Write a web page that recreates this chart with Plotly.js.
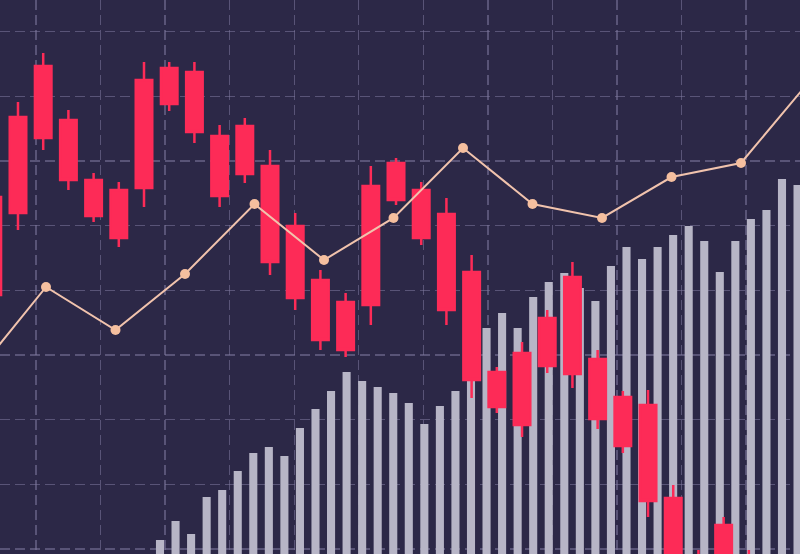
<!DOCTYPE html>
<html>
<head>
<meta charset="utf-8">
<script src="https://cdn.plot.ly/plotly-3.0.1.min.js"></script>
<style>
  html, body { margin: 0; padding: 0; background: #2c2847; }
  #chart { width: 800px; height: 554px; }
</style>
</head>
<body>
<div id="chart"></div>
<script>
// ---- Volume bars (index = session number) ----
const volumeIndex = [0,1,2,3,4,5,6,7,8,9,10,11,12,13,14,15,16,17,18,19,20,
  21,22,23,24,25,26,27,28,29,30,31,32,33,34,35,36,37,38,39,40,41];
const volumeTop = [1.39,4.33,2.32,8.04,9.12,12.06,14.84,15.77,14.38,18.71,
  21.65,24.43,27.37,25.97,25.05,24.12,22.57,19.33,22.11,24.43,29.99,
  34.17,36.49,34.17,38.96,41.28,42.67,40.35,38.34,43.75,46.69,44.84,
  46.69,48.55,49.94,47.62,42.83,47.62,51.02,52.41,57.21,56.28];

// ---- Candles ----
const candleIndex = [-1,0,1,2,3,4,5,6,7,8,9,10,11,12,13,14,15,16,17,18,19,
  20,21,22,23,24,25,26,27,28,29];
const candleHigh  = [56.28,69.11,76.69,67.87,58.13,56.74,75.29,75.29,75.29,65.55,66.64,
  61.69,51.95,43.14,39.58,59.21,60.45,56.74,54.27,45.45,28.14,
  32.00,36.95,44.37,30.77,24.43,24.58,9.90,-0.15,4.95,-0.15];
const candleOpen  = [54.42,66.79,74.68,66.33,57.05,55.50,72.51,74.37,73.75,63.85,65.40,
  59.21,49.94,41.59,38.19,56.12,59.68,55.50,51.79,42.83,27.37,
  30.30,35.71,42.05,29.38,23.50,22.26,7.89,-1.70,3.71,-1.40];
const candleClose = [39.27,51.95,63.54,57.05,51.48,48.08,55.81,68.80,64.47,54.58,57.98,
  44.37,38.81,32.31,30.77,37.72,53.96,48.08,36.95,26.13,21.95,
  19.17,28.29,27.06,20.10,15.92,7.42,-3.00,-8.00,-5.00,-8.00];
const candleLow   = [37.72,49.32,61.69,55.50,50.56,46.69,52.88,67.72,62.77,52.88,56.59,
  42.36,36.95,30.77,29.68,34.63,53.19,47.00,34.63,23.35,21.03,
  17.32,27.21,24.89,18.55,14.84,4.95,-5.00,-10.00,-7.00,-10.00];

// ---- Trend line ----
const trendIndex = [-1,0,1,2,3,4,5,6,7,8,9,10,11];
const trendValue = [27.21,40.51,33.86,42.52,53.34,44.68,51.18,62.00,53.34,51.18,57.51,59.68,72.51];

const BAR_BASE = -3;
const RED = '#fd2b57';
const GRID = 'rgba(128,121,158,0.55)';

const bars = {
  type: 'bar',
  x: volumeIndex,
  y: volumeTop.map(v => v - BAR_BASE),
  base: BAR_BASE,
  width: 0.52,
  marker: { color: '#b7b5c6', line: { width: 0 } },
  xaxis: 'x', yaxis: 'y',
  hoverinfo: 'skip'
};

const candles = {
  type: 'candlestick',
  x: candleIndex,
  open: candleOpen, high: candleHigh, low: candleLow, close: candleClose,
  increasing: { line: { color: RED, width: 2.5 }, fillcolor: RED },
  decreasing: { line: { color: RED, width: 2.5 }, fillcolor: RED },
  whiskerwidth: 0,
  xaxis: 'x2', yaxis: 'y',
  hoverinfo: 'skip'
};

const trend = {
  type: 'scatter',
  mode: 'lines+markers',
  x: trendIndex,
  y: trendValue,
  line: { color: '#f1c3ad', width: 2 },
  marker: { color: '#f5bf9f', size: 10 },
  xaxis: 'x3', yaxis: 'y',
  hoverinfo: 'skip'
};

const hidden = { showticklabels: false, zeroline: false, showline: false, ticks: '' };

const layout = {
  width: 800, height: 554, autosize: false,
  margin: { l: 0, r: 0, t: 0, b: 0, pad: 0 },
  paper_bgcolor: '#2c2847',
  plot_bgcolor: '#2c2847',
  showlegend: false,
  boxgap: 0.345,
  boxgroupgap: 0,
  xaxis: Object.assign({ range: [-10.289, 41.158], showgrid: false }, hidden),
  xaxis2: Object.assign({ range: [-0.714, 31.03], overlaying: 'x', showgrid: false,
    rangeslider: { visible: false } }, hidden),
  xaxis3: Object.assign({ range: [-0.662, 10.849], overlaying: 'x', showgrid: true,
    tickmode: 'linear', tick0: -0.1439, dtick: 0.9288,
    gridcolor: GRID, gridwidth: 1.4, griddash: '10px,5px' }, hidden),
  yaxis: Object.assign({ range: [-0.773, 84.88], showgrid: true,
    tickmode: 'linear', tick0: 0, dtick: 10,
    gridcolor: GRID, gridwidth: 1.4, griddash: '10px,5px' }, hidden)
};

Plotly.newPlot('chart', [bars, candles, trend], layout, { displayModeBar: false, staticPlot: true });
</script>
</body>
</html>
